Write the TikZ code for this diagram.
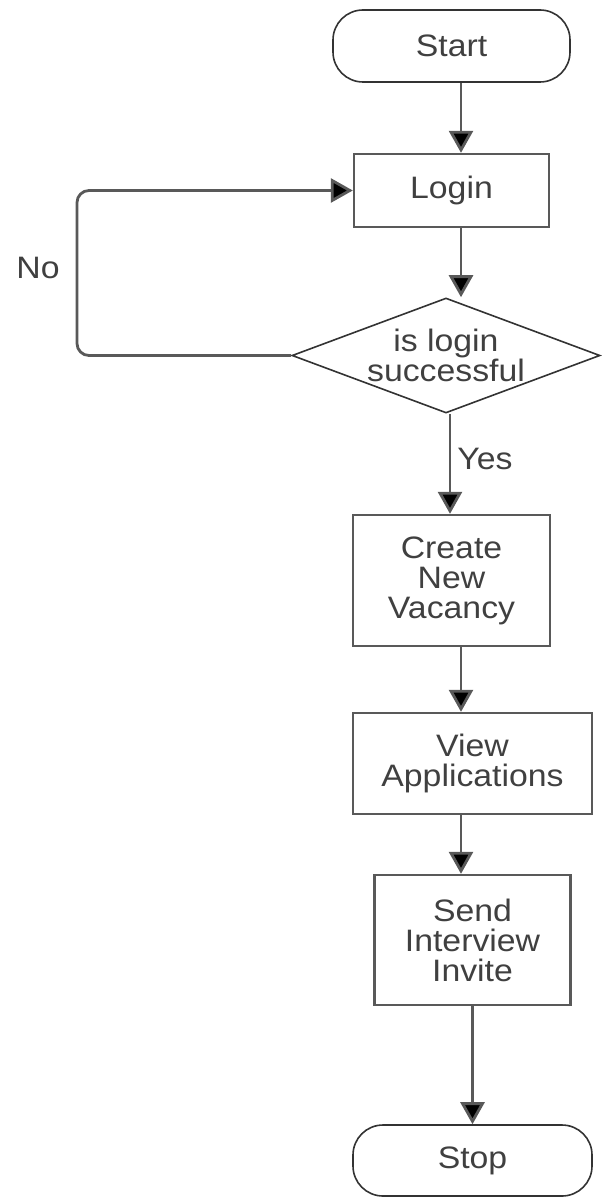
\documentclass[tikz,border=0pt]{standalone}
\usepackage{fontspec}
\setmainfont{Liberation Sans}[FakeStretch=1.09]
\usetikzlibrary{shapes.geometric, arrows.meta}
\definecolor{linegray}{HTML}{595959}
\definecolor{textgray}{HTML}{404040}
\begin{document}
\begin{tikzpicture}[x=0.5pt, y=-0.5pt,
	every node/.style={font=\fontsize{15.5}{15}\selectfont, text=textgray, align=center, inner sep=0pt},
	terminal/.style={draw=black!80, line width=0.8pt, rounded corners=15pt},
	process/.style={draw=linegray, line width=1.2pt},
	decision/.style={diamond, aspect=2.68, draw=black!80, line width=0.8pt},
	flow/.style={draw=linegray, line width=1.4pt, -{Triangle[length=11pt, width=12pt, fill=black]}}]
	\useasboundingbox (0,0) rectangle (602,1198);

	% boxes
	\node[terminal, minimum width=118.5pt, minimum height=36pt] (start) at (451.5,46) {Start};
	\node[process, minimum width=97.5pt, minimum height=36.5pt] (login) at (451.5,190.5) {Login};
	\node[decision, minimum width=154pt, minimum height=57.5pt] (check) at (446,355.5) {is login\\successful};
	\node[process, minimum width=98.5pt, minimum height=65.5pt] (vacancy) at (451.5,580.5) {Create\\New\\Vacancy};
	\node[process, minimum width=119.5pt, minimum height=50.5pt] (apps) at (472.5,763.5) {View\\Applications};
	\node[process, minimum width=98pt, minimum height=65pt] (invite) at (472.5,940) {Send\\Interview\\Invite};
	\node[terminal, minimum width=119.5pt, minimum height=35.5pt] (stop) at (472.5,1160.5) {Stop};

	% columns of the connectors
	\coordinate (colA) at (461,0);
	\coordinate (colB) at (450,0);
	\coordinate (colC) at (472.5,0);
	\coordinate (back) at (77,270);

	\draw[flow] (start.south -| colA) -- (login.north -| colA);
	\draw[flow] (login.south -| colA) -- (check.north -| colA);
	\draw[flow] (check.south -| colB) -- (vacancy.north -| colB);
	\draw[flow] (vacancy.south -| colA) -- (apps.north -| colA);
	\draw[flow] (apps.south -| colA) -- (invite.north -| colA);
	\draw[flow] (invite.south -| colC) -- (stop.north -| colC);
	\draw[flow, rounded corners=6pt] (check.west) -| (back) |- (login.west);

	% labels
	\node[anchor=west] (yes) at (457,459) {Yes};
	\node (no) at (38,268) {No};
\end{tikzpicture}
\end{document}
